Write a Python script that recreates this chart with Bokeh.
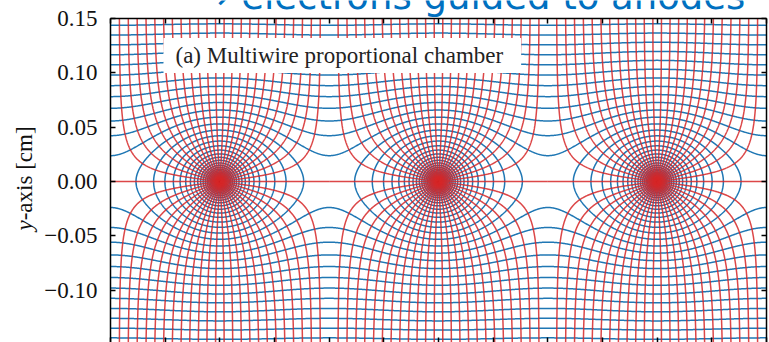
import numpy as np
from bokeh.plotting import figure
from bokeh.models import Range1d, LinearAxis, FixedTicker, CustomJSTickFormatter, Label
from bokeh.embed import file_html
from bokeh.resources import INLINE

# Anode wire plane (all lengths in cm)
wire_pitch = 0.2
wire_x = [-0.2, 0.0, 0.2]

# Number of field lines leaving each wire (evenly spaced in angle)
n_field_lines = 50

# Reduced potential U = ln|sin(pi z / pitch)| of the drawn equipotentials
potential_levels = [
    -3.4935, -3.3565, -3.2195, -3.0825, -2.9455, -2.8085, -2.6715, -2.5345,
    -2.3975, -2.2605, -2.1235, -1.9865, -1.8495, -1.7125, -1.5755, -1.4385,
    -1.3015, -1.1645, -1.0275, -0.8905, -0.7535, -0.6165, -0.4795, -0.3425,
    -0.2055, -0.0685, 0.0685, 0.2055, 0.3425, 0.4795, 0.6165, 0.7535,
    0.8905, 1.0275, 1.1645, 1.3015, 1.4385, 1.5755, 1.7125,
]

y_ticks = [-0.15, -0.10, -0.05, 0.0, 0.05, 0.10, 0.15]
x_ticks = [-0.30, -0.25, -0.20, -0.15, -0.10, -0.05, 0.0, 0.05, 0.10, 0.15, 0.20, 0.25, 0.30]

# plotting box in data units
x_lo, x_hi = -0.3, 0.3
y_lo, y_hi = -0.148, 0.15

# the canvas is one big frame; margins around the box are expressed in data units
W, H = 769, 342
box_left_px, box_right_px, box_top_px = 110, 3, 18
sx = (W - box_left_px - box_right_px) / (x_hi - x_lo)
sy = (H - box_top_px) / (y_hi - y_lo)
view_x = (x_lo - box_left_px / sx, x_hi + box_right_px / sx)
view_y = (y_lo, y_hi + box_top_px / sy)


def px_to_data(px, py):
    """canvas pixel (from top-left) -> data coordinates"""
    return view_x[0] + px / sx, view_y[1] - py / sy


k = np.pi / wire_pitch


def clip(x, y):
    inside = (x >= x_lo) & (x <= x_hi) & (y >= y_lo) & (y <= y_hi)
    return np.where(inside, x, np.nan), np.where(inside, y, np.nan)


# --- field lines: Im(w) = const, with w = ln sin(k z) -> z = arcsin(exp(w)) / k
field_xs, field_ys = [], []
for cx in wire_x:
    for i in range(n_field_lines):
        theta = 2 * np.pi * i / n_field_lines
        on_axis = abs(np.sin(theta)) < 1e-9
        u = np.linspace(-6.0, 0.0 if on_axis else 2.6, 1200)
        z = np.arcsin(np.exp(u + 1j * theta)) / k
        fx, fy = clip(z.real + cx, z.imag)
        field_xs.append(fx)
        field_ys.append(fy)

# --- equipotentials: Re(w) = U
eq_xs, eq_ys = [], []
xs_full = np.linspace(x_lo, x_hi, 1601)
for U in potential_levels:
    if U < 0:
        t = np.linspace(0, 2 * np.pi, 721)
        z = np.arcsin(np.exp(U + 1j * t)) / k
        for cx in wire_x:
            ex, ey = clip(z.real + cx, z.imag)
            eq_xs.append(ex)
            eq_ys.append(ey)
    else:
        yy = np.arcsinh(np.sqrt(np.exp(2 * U) - np.sin(k * xs_full) ** 2)) / k
        for sign in (1, -1):
            ex, ey = clip(xs_full, sign * yy)
            eq_xs.append(ex)
            eq_ys.append(ey)

p = figure(width=W, height=H,
           x_range=Range1d(*view_x), y_range=Range1d(*view_y),
           x_axis_location=None, y_axis_location=None,
           toolbar_location=None, output_backend="svg",
           min_border_left=0, min_border_right=0,
           min_border_top=0, min_border_bottom=0)
p.outline_line_color = None
p.background_fill_color = "white"
p.border_fill_color = "white"
p.grid.visible = False

p.multi_line(eq_xs, eq_ys, line_color="#1f77b4", line_width=1.5)
p.multi_line(field_xs, field_ys, line_color="#d62728", line_width=1.5, line_alpha=0.85)

serif = "Liberation Serif"
fmt = CustomJSTickFormatter(code="""
    const v = Math.abs(tick) < 1e-9 ? 0 : tick;
    return (v < 0 ? "\u2212" : "") + Math.abs(v).toFixed(2);
""")


def make_axis(ticks, loc, bounds, labelled):
    ax = LinearAxis(ticker=FixedTicker(ticks=ticks), fixed_location=loc, bounds=bounds)
    ax.major_tick_in = 5
    ax.major_tick_out = 0
    ax.minor_tick_line_color = None
    ax.major_tick_line_width = 1.5
    ax.major_tick_line_color = "black"
    ax.axis_line_width = 1.5
    ax.axis_line_color = "black"
    if labelled:
        ax.formatter = fmt
        ax.major_label_text_font = serif
        ax.major_label_text_font_size = "23px"
        ax.major_label_text_color = "#111111"
        ax.major_label_standoff = 13
    else:
        ax.major_label_text_font_size = "0px"
        ax.major_label_text_color = None
        ax.major_label_standoff = 0
    return ax


left = make_axis(y_ticks, x_lo, (y_lo, y_hi), True)
right = make_axis(y_ticks, x_hi, (y_lo, y_hi), False)
top = make_axis(x_ticks, y_hi, (x_lo, x_hi), False)
bottom = make_axis(x_ticks, y_lo, (x_lo, x_hi), False)
bottom.axis_line_color = None

p.add_layout(left, "left")
p.add_layout(right, "right")
p.add_layout(top, "above")
p.add_layout(bottom, "below")

# y-axis title: italic variable name followed by upright text (rotated)
yl_x, y_start = px_to_data(23.5, 230)
_, y_rest = px_to_data(0, 219.8)
p.add_layout(Label(x=yl_x, y=y_start, text="y", angle=np.pi / 2,
                   text_align="left", text_baseline="alphabetic",
                   text_font=serif, text_font_style="italic",
                   text_font_size="23px", text_color="#111111"))
p.add_layout(Label(x=yl_x, y=y_rest, text="-axis [cm]", angle=np.pi / 2,
                   text_align="left", text_baseline="alphabetic",
                   text_font=serif, text_font_size="23px", text_color="#111111"))

# panel caption on a white box
cap_x, cap_y = px_to_data(163, 55)
p.add_layout(Label(x=cap_x, y=cap_y, text="(a) Multiwire proportional chamber",
                   text_align="left", text_baseline="middle",
                   text_font=serif, text_font_size="23px", text_color="#222222",
                   background_fill_color="white", border_line_color=None,
                   padding=dict(left=12, right=18, top=5, bottom=5)))

# headline above the plot, mostly outside the picture
hl_x, hl_y = px_to_data(198, -3.6)
p.add_layout(Label(x=hl_x, y=hl_y, text="\u2192 electrons guided to anodes",
                   text_align="left", text_baseline="alphabetic",
                   text_font="DejaVu Sans", text_font_size="37px",
                   text_color="#0070c0"))

open("out.html", "w").write(file_html(p, INLINE))
